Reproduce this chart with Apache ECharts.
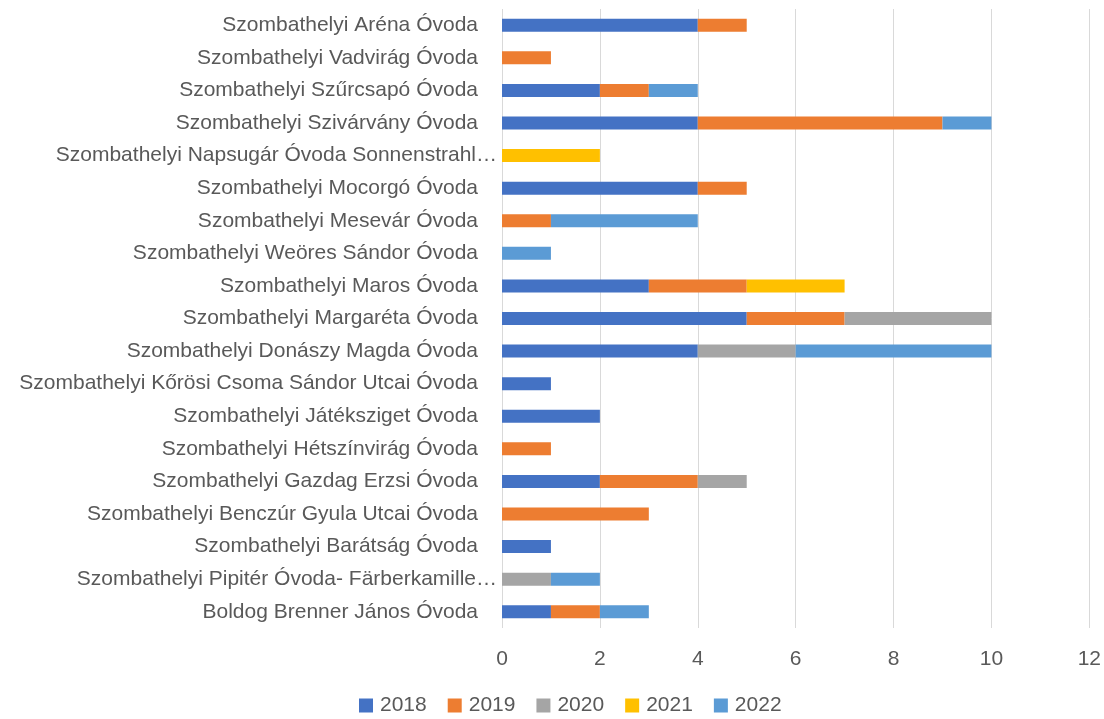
<!DOCTYPE html>
<html>
<head>
<meta charset="utf-8">
<script src="https://cdn.jsdelivr.net/npm/echarts@6/dist/echarts.min.js"></script>
<style>
  html, body { margin: 0; padding: 0; background: #fff; }
  #chart { width: 1104px; height: 719px; }
</style>
</head>
<body>
<div id="chart"></div>
<script>
// categories, bottom to top (as ECharts draws a category y axis)
const categories = [
  'Boldog Brenner János Óvoda',
  'Szombathelyi Pipitér Óvoda- Färberkamille…',
  'Szombathelyi Barátság Óvoda',
  'Szombathelyi Benczúr Gyula Utcai Óvoda',
  'Szombathelyi Gazdag Erzsi Óvoda',
  'Szombathelyi Hétszínvirág Óvoda',
  'Szombathelyi Játéksziget Óvoda',
  'Szombathelyi Kőrösi Csoma Sándor Utcai Óvoda',
  'Szombathelyi Donászy Magda Óvoda',
  'Szombathelyi Margaréta Óvoda',
  'Szombathelyi Maros Óvoda',
  'Szombathelyi Weöres Sándor Óvoda',
  'Szombathelyi Mesevár Óvoda',
  'Szombathelyi Mocorgó Óvoda',
  'Szombathelyi Napsugár Óvoda Sonnenstrahl…',
  'Szombathelyi Szivárvány Óvoda',
  'Szombathelyi Szűrcsapó Óvoda',
  'Szombathelyi Vadvirág Óvoda',
  'Szombathelyi Aréna Óvoda'
]

const years = ['2018', '2019', '2020', '2021', '2022']
const colors = ['#4472C4', '#ED7D31', '#A5A5A5', '#FFC000', '#5B9BD5']

// values per year, same order as categories (null = no segment)
const v2018 = [1, null, 1, null, 2, null, 2, 1, 4, 5, 3, null, null, 4, null, 4, 2, null, 4]
const v2019 = [1, null, null, 3, 2, 1, null, null, null, 2, 2, null, 1, 1, null, 5, 1, 1, 1]
const v2020 = [null, 1, null, null, 1, null, null, null, 2, 3, null, null, null, null, null, null, null, null, null]
const v2021 = [null, null, null, null, null, null, null, null, null, null, 2, null, null, null, 2, null, null, null, null]
const v2022 = [1, 1, null, null, null, null, null, null, 4, null, null, 1, 3, null, null, 1, 1, null, null]

const seriesValues = [v2018, v2019, v2020, v2021, v2022]

const font = 'Liberation Sans'
const textColor = '#595959'
const fs = 21

const chart = echarts.init(document.getElementById('chart'))

chart.setOption({
  animation: false,
  color: colors,
  grid: { left: 502, right: 14, top: 9, bottom: 91, containLabel: false },
  legend: {
    data: years,
    bottom: -2,
    left: 354,
    icon: 'rect',
    itemWidth: 14,
    itemHeight: 14,
    itemGap: 21,
    textStyle: { color: textColor, fontSize: fs, fontFamily: font, padding: [0, 0, 0, 2] }
  },
  xAxis: {
    type: 'value',
    min: 0,
    max: 12,
    interval: 2,
    axisLine: { show: false },
    axisTick: { show: false },
    axisLabel: { color: textColor, fontSize: fs, fontFamily: font, margin: 21 },
    splitLine: { lineStyle: { color: '#D9D9D9', width: 1 } }
  },
  yAxis: {
    type: 'category',
    data: categories,
    axisLine: { show: false },
    axisTick: { show: false },
    axisLabel: {
      color: textColor,
      fontSize: fs,
      fontFamily: font,
      margin: 5,
      formatter: (v) => v.endsWith('…') ? '{t|' + v + '}' : '{n|' + v + '}',
      rich: {
        t: { color: textColor, fontSize: fs, fontFamily: font },
        n: { color: textColor, fontSize: fs, fontFamily: font, padding: [0, 19, 0, 0] }
      }
    }
  },
  series: years.map((y, i) => ({
    name: y,
    type: 'bar',
    stack: 'total',
    barWidth: 13,
    data: seriesValues[i],
    itemStyle: { color: colors[i] }
  }))
})
</script>
</body>
</html>
